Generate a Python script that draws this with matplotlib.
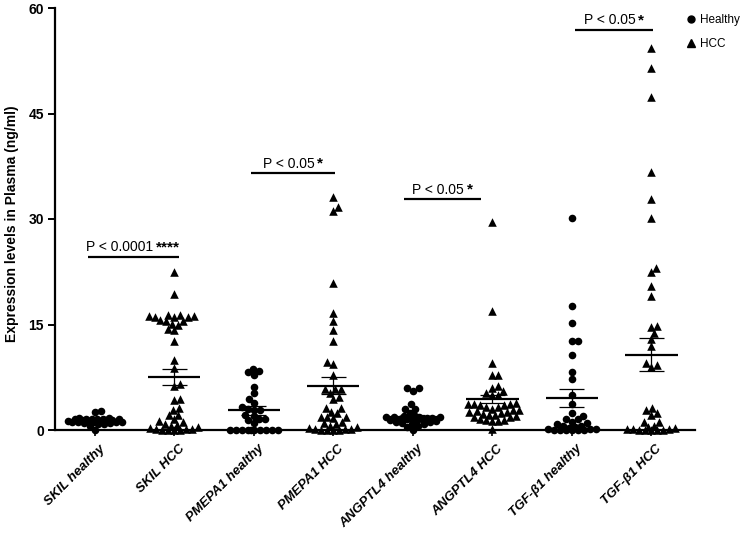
import numpy as np
import matplotlib
matplotlib.use("Agg")
from matplotlib import pyplot as plt
from matplotlib.lines import Line2D
from matplotlib.transforms import ScaledTranslation

plt.rcParams['font.family'] = ['Liberation Sans', 'DejaVu Sans']

# groups on the x axis
groups = ["SKIL healthy", "SKIL HCC", "PMEPA1 healthy", "PMEPA1 HCC",
          "ANGPTL4 healthy", "ANGPTL4 HCC", "TGF-\u03b21 healthy", "TGF-\u03b21 HCC"]

# plasma levels (ng/ml)
skil_healthy = [0.0, 0.6, 0.8, 0.9, 1.0, 1.0, 1.1, 1.1, 1.2, 1.2, 1.2, 1.3, 1.3,
                1.3, 1.4, 1.4, 1.4, 1.5, 1.5, 1.5, 1.6, 1.6, 1.6, 1.7, 1.7, 2.6, 2.7]
skil_hcc = [22.5, 19.3, 16.4, 16.3, 16.2, 16.2, 16.1, 16.0, 16.0, 15.6, 15.5, 15.5,
            15.1, 14.9, 14.3, 14.2, 12.6, 10.0, 8.8, 6.6, 6.3, 4.4, 4.2, 3.1, 2.8,
            2.2, 2.1, 1.5, 1.3, 1.1, 0.9, 0.7, 0.6, 0.4, 0.3, 0.2, 0.1, 0.1, 0.05,
            0.0, 0.0, 0.0]
pmepa1_healthy = [8.7, 8.4, 8.2, 7.8, 6.1, 5.2, 4.4, 3.9, 3.3, 3.0, 2.9, 2.9, 2.2,
                  2.0, 1.6, 1.5, 1.4, 1.0, 0.0, 0.0, 0.0, 0.0, 0.0, 0.0, 0.0, 0.0,
                  0.0, 0.0]
pmepa1_hcc = [33.1, 31.7, 31.2, 20.9, 16.6, 15.5, 14.2, 12.6, 9.6, 9.4, 7.8, 5.9,
              5.8, 5.8, 5.2, 4.7, 4.4, 3.1, 3.1, 2.6, 2.4, 1.9, 1.8, 1.8, 1.7, 1.2,
              1.0, 0.8, 0.6, 0.4, 0.3, 0.2, 0.1, 0.1, 0.0, 0.0, 0.0, 0.0]
angptl4_healthy = [6.0, 5.6, 6.0, 3.7, 3.0, 3.0, 2.4, 2.0, 2.0, 1.9, 1.9, 1.8, 1.8,
                   1.7, 1.7, 1.6, 1.6, 1.5, 1.5, 1.4, 1.4, 1.3, 1.2, 1.1, 1.0, 0.9,
                   0.8, 0.6, 0.4, 0.0]
angptl4_hcc = [29.6, 16.9, 9.5, 7.8, 7.8, 6.2, 6.0, 5.6, 5.2, 5.0, 5.0, 3.8, 3.7,
               3.7, 3.7, 3.6, 3.6, 3.3, 3.2, 3.0, 2.9, 2.8, 2.7, 2.6, 2.5, 2.4, 2.3,
               2.2, 2.1, 2.0, 1.9, 1.8, 1.5, 1.4, 1.4, 1.3, 1.3, 0.1]
tgf_healthy = [30.2, 17.6, 15.2, 12.7, 12.7, 10.7, 8.3, 7.3, 5.0, 3.7, 2.4, 2.0,
               1.6, 1.5, 1.2, 1.0, 0.8, 0.6, 0.5, 0.4, 0.3, 0.2, 0.1, 0.1, 0.0,
               0.0, 0.0, 0.0, 0.0, 0.0]
tgf_hcc = [54.3, 51.5, 47.4, 36.7, 32.9, 30.2, 23.0, 22.4, 20.5, 19.1, 14.8, 14.7,
           13.8, 13.0, 11.9, 9.5, 9.2, 9.0, 3.1, 2.8, 2.4, 2.2, 1.1, 1.1, 0.5, 0.4,
           0.3, 0.2, 0.1, 0.1, 0.0, 0.0, 0.0, 0.0, 0.0]

all_data = [skil_healthy, skil_hcc, pmepa1_healthy, pmepa1_hcc,
            angptl4_healthy, angptl4_hcc, tgf_healthy, tgf_hcc]

# mean and SEM as drawn
means = [1.4, 7.5, 2.8, 6.3, 1.9, 4.4, 4.55, 10.7]
sems = [0.15, 1.15, 0.6, 1.25, 0.25, 0.6, 1.35, 2.35]

# significance brackets: (x start, x end, y, p text, stars)
brackets = [(-0.09, 1.06, 24.6, "P < 0.0001", "****"),
            (1.97, 3.02, 36.5, "P < 0.05", "*"),
            (3.89, 4.86, 32.8, "P < 0.05", "*"),
            (6.04, 7.02, 56.9, "P < 0.05", "*")]


def swarm_x(xc, values, ax, gap=6.0, max_off=27.0, step=1.0):
    # beeswarm in pixels; points past max_off overlap instead of spreading
    vals = np.asarray(values, float)
    pix = ax.transData.transform(np.column_stack([np.full(vals.size, xc), vals]))
    x0 = pix[0, 0]
    cands = [0.0]
    k = 1
    while k * step <= max_off:
        cands += [k * step, -k * step]
        k += 1
    placed = []
    off = np.zeros(vals.size)
    for n, i in enumerate(np.argsort(vals, kind='stable')):
        py = pix[i, 1]
        best, best_d = 0.0, -1.0
        order = cands if n % 2 == 0 else [-c for c in cands]
        for c in order:
            d = min([np.hypot(c - qx, py - qy) for qx, qy in placed] or [1e9])
            if d >= gap:
                best = c
                break
            if d > best_d + 0.3:
                best, best_d = c, d
        placed.append((best, py))
        off[i] = best
    back = ax.transData.inverted().transform(np.column_stack([x0 + off, pix[:, 1]]))
    return back[:, 0]


fig = plt.figure(figsize=(7.43, 5.33), dpi=100)
ax = fig.add_axes([55 / 743, 103 / 533, 640 / 743, 422 / 533])
ax.set_xlim(-0.5, 7.55)
ax.set_ylim(0, 60)

for i, vals in enumerate(all_data):
    xs = swarm_x(i, vals, ax)
    if i % 2 == 0:
        ax.scatter(xs, vals, s=30, marker='o', color='black', linewidths=0,
                   clip_on=False, zorder=3)
    else:
        ax.scatter(xs, vals, s=38, marker='^', color='black', linewidths=0,
                   clip_on=False, zorder=3)
    m, e = means[i], sems[i]
    ax.hlines(m, i - 0.33, i + 0.33, color='black', lw=1.6, zorder=4)
    ax.vlines(i, m - e, m + e, color='black', lw=0.9, zorder=4)
    ax.hlines([m - e, m + e], i - 0.16, i + 0.16, color='black', lw=0.9, zorder=4)

for x0, x1, y, ptxt, stars in brackets:
    ax.plot([x0, x1], [y, y], color='black', lw=1.6, solid_capstyle='butt')
    star_w = len(stars) * 4.3 + 2
    t = ax.annotate(ptxt, xy=((x0 + x1) / 2, y), xytext=(-star_w / 2, 2),
                    textcoords='offset points', ha='center', va='bottom',
                    fontsize=10)
    ax.annotate(stars, xy=(1, 0), xycoords=t, xytext=(2, 0),
                textcoords='offset points', ha='left', va='bottom',
                fontsize=11, fontweight='bold')

for side in ['top', 'right']:
    ax.spines[side].set_visible(False)
for side in ['left', 'bottom']:
    ax.spines[side].set_linewidth(1.6)

ax.set_yticks([0, 15, 30, 45, 60])
ax.set_yticklabels(['0', '15', '30', '45', '60'], fontweight='bold', fontsize=10)
ax.tick_params(axis='y', direction='out', length=5, width=1.4, pad=3)
ax.set_xticks(range(len(groups)))
ax.set_xticklabels(groups, rotation=45, ha='right', va='top',
                   rotation_mode='anchor', fontsize=9.5, fontweight='bold',
                   fontstyle='italic')
ax.tick_params(axis='x', direction='out', length=4, width=1.2, pad=5)
shift = ScaledTranslation(3 / 72, 0, fig.dpi_scale_trans)
for lab in ax.get_xticklabels():
    lab.set_transform(lab.get_transform() + shift)

ax.set_ylabel("Expression levels in Plasma (ng/ml)", fontsize=10, fontweight='bold')
ax.yaxis.set_label_coords(-0.057, 0.49)

handles = [Line2D([], [], marker='o', color='black', ls='', markersize=5),
           Line2D([], [], marker='^', color='black', ls='', markersize=5.5)]
fig.legend(handles, ['Healthy', 'HCC'], loc='upper left',
           bbox_to_anchor=(679 / 743, 1 - 6 / 533), frameon=False, fontsize=8.5,
           handlelength=0.7, handletextpad=0.4, labelspacing=1.0, borderpad=0.2)

fig.savefig("out.png", dpi=100)
